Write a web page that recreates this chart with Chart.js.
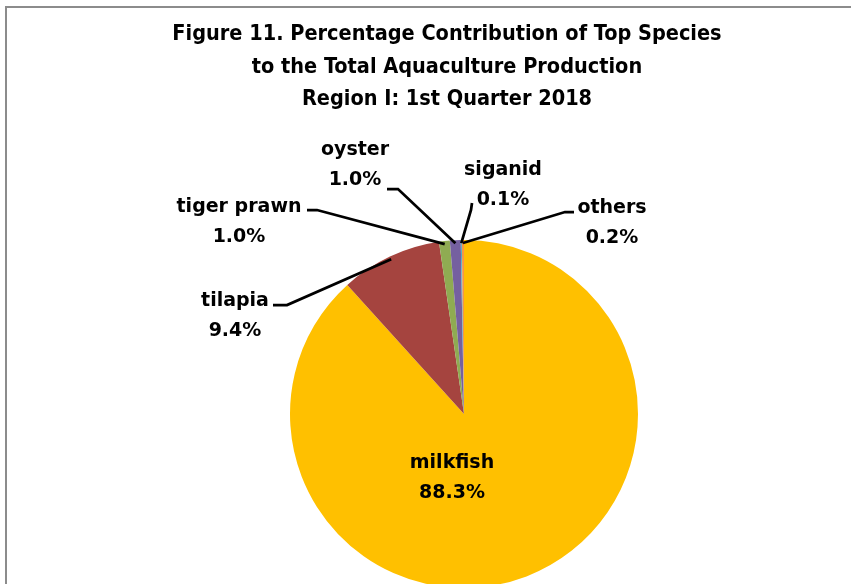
<!DOCTYPE html>
<html>
<head>
<meta charset="utf-8">
<script src="https://cdn.jsdelivr.net/npm/chart.js@4.4.0/dist/chart.umd.min.js"></script>
<style>
    html, body { margin: 0; padding: 0; background: #fff; overflow: hidden; }
    #wrap { position: relative; width: 851px; height: 584px; overflow: hidden; }
    #frame { position: absolute; left: 5px; top: 6px; width: 900px; height: 700px;
             border-left: 2px solid #8c8c8c; border-top: 2px solid #8c8c8c; }
    #title { position: absolute; left: 0; top: 17px; width: 894px; text-align: center;
             font: bold 21.5px "Liberation Sans Narrow", "DejaVu Sans Condensed", sans-serif;
             line-height: 32.5px; color: #000; }
    #chart { position: absolute; left: 0; top: 0; }
</style>
</head>
<body>
<div id="wrap">
    <div id="frame"></div>
    <canvas id="chart" width="851" height="600"></canvas>
    <div id="title">Figure 11. Percentage Contribution of Top Species<br>to the Total Aquaculture Production<br>Region I: 1st Quarter 2018</div>
</div>
<script>
const species = ["milkfish", "tilapia", "tiger prawn", "oyster", "siganid", "others"];
const shares = [88.3, 9.4, 1.0, 1.0, 0.1, 0.2];
const shareLabels = ["88.3%", "9.4%", "1.0%", "1.0%", "0.1%", "0.2%"];

const sliceColors = ["#FFC000", "#A5443F", "#8FAB52", "#7560A0", "#4BACC6", "#F79646"];

// where each label sits (centre of first line) and the bend of its leader line
const labelSpots = [[452, 463], [235, 301], [239, 207], [355, 150], [503, 170], [612, 208]];
const leaderBends = [
    null,
    [[273, 305], [287, 305]],
    [[307, 210], [317, 210]],
    [[387, 189], [398, 189]],
    [[472, 203], [471, 210]],
    [[574, 212], [565, 212]],
];

// Labels with leader lines

const pieLabels = {
    id: "pieLabels",
    afterDraw(chart) {
        const ctx = chart.ctx;
        const arcs = chart.getDatasetMeta(0).data;
        ctx.save();

        ctx.strokeStyle = "#000";
        ctx.lineWidth = 2.75;
        arcs.forEach((arc, i) => {
            const bend = leaderBends[i];
            if (!bend) return;
            const mid = (arc.startAngle + arc.endAngle) / 2;
            const r = arc.outerRadius - 3;
            ctx.beginPath();
            ctx.moveTo(bend[0][0], bend[0][1]);
            ctx.lineTo(bend[1][0], bend[1][1]);
            ctx.lineTo(arc.x + Math.cos(mid) * r, arc.y + Math.sin(mid) * r);
            ctx.stroke();
        });

        ctx.fillStyle = "#000";
        ctx.font = "bold 19px 'DejaVu Sans'";
        ctx.textAlign = "center";
        ctx.textBaseline = "middle";
        species.forEach((name, i) => {
            const [x, y] = labelSpots[i];
            ctx.fillText(name, x, y);
            ctx.fillText(shareLabels[i], x, y + 30);
        });
        ctx.restore();
    },
};

new Chart(document.querySelector("#chart"), {
    type: "pie",
    data: {
        labels: species,
        datasets: [
            {
                data: shares,
                backgroundColor: sliceColors,
                borderWidth: 0,
            },
        ],
    },
    options: {
        responsive: false,
        animation: false,
        layout: {
            padding: { left: 290, right: 213, top: 240, bottom: 12 },
        },
        plugins: {
            legend: { display: false },
            tooltip: { enabled: false },
        },
    },
    plugins: [pieLabels],
});
</script>
</body>
</html>
